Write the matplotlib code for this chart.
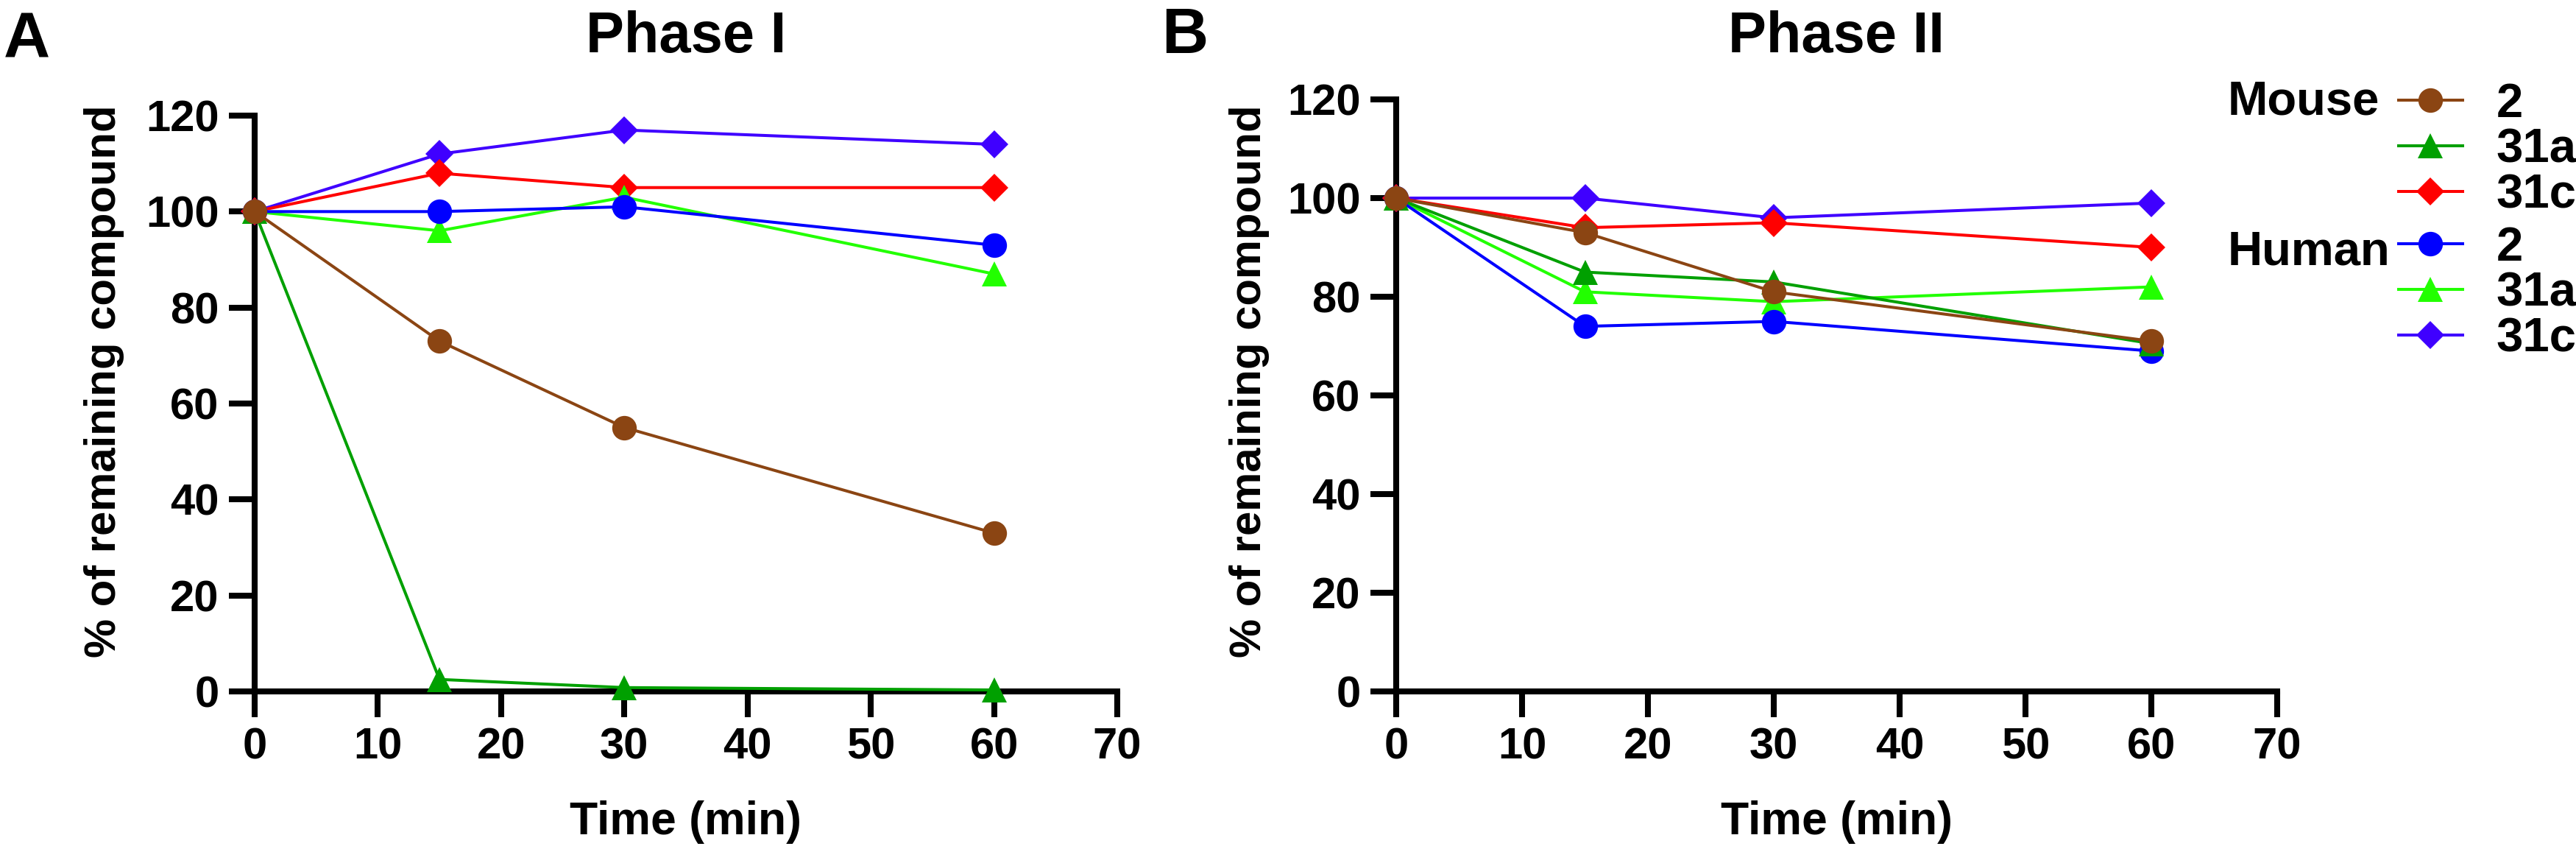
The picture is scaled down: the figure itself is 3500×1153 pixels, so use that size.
import matplotlib
matplotlib.use("Agg")
import matplotlib.pyplot as plt
from matplotlib.lines import Line2D

plt.rcParams['font.family'] = ['Liberation Sans', 'DejaVu Sans']
plt.rcParams['font.weight'] = 'bold'

# ---- data ----
time_min = [0, 15, 30, 60]

phase1_mouse_2 = [100, 73, 55, 33]
phase1_mouse_31a = [100, 2.5, 0.8, 0.3]
phase1_mouse_31c = [100, 108, 105, 105]
phase1_human_2 = [100, 100, 101, 93]
phase1_human_31a = [100, 96, 103, 87]
phase1_human_31c = [100, 112, 117, 114]

phase2_mouse_2 = [100, 93, 81, 71]
phase2_mouse_31a = [100, 85, 83, 70.5]
phase2_mouse_31c = [100, 94, 95, 90]
phase2_human_2 = [100, 74, 75, 69]
phase2_human_31a = [100, 81, 79, 82]
phase2_human_31c = [100, 100, 96, 99]

compound_labels = ['2', '31a', '31c']
species_labels = ['Mouse', 'Human']
x_ticks = [0, 10, 20, 30, 40, 50, 60, 70]
y_ticks = [0, 20, 40, 60, 80, 100, 120]
panel_titles = ['Phase I', 'Phase II']
panel_letters = ['A', 'B']
x_label = 'Time (min)'
y_label = '% of remaining compound'

# ---- styles ----
styles = {
    ('Mouse', '2'): dict(color='#8B4513', marker='o'),
    ('Mouse', '31a'): dict(color='#00A000', marker='^'),
    ('Mouse', '31c'): dict(color='#FF0000', marker='D'),
    ('Human', '2'): dict(color='#0000FF', marker='o'),
    ('Human', '31a'): dict(color='#22FF00', marker='^'),
    ('Human', '31c'): dict(color='#3F00FF', marker='D'),
}
msize = {'o': 24, '^': 24, 'D': 19}
LW = 2.9
SPINE_W = 5.8
TICK_FS = 43
LABEL_FS = 45

panels = [
    {('Mouse', '2'): phase1_mouse_2, ('Mouse', '31a'): phase1_mouse_31a,
     ('Mouse', '31c'): phase1_mouse_31c, ('Human', '2'): phase1_human_2,
     ('Human', '31a'): phase1_human_31a, ('Human', '31c'): phase1_human_31c},
    {('Mouse', '2'): phase2_mouse_2, ('Mouse', '31a'): phase2_mouse_31a,
     ('Mouse', '31c'): phase2_mouse_31c, ('Human', '2'): phase2_human_2,
     ('Human', '31a'): phase2_human_31a, ('Human', '31c'): phase2_human_31c},
]
# draw order (back to front), roughly as in the reference
draw_order = [('Human', '31c'), ('Mouse', '31c'), ('Human', '31a'),
              ('Human', '2'), ('Mouse', '31a'), ('Mouse', '2')]

fig = plt.figure(figsize=(35, 11.53), dpi=100)
ax_rects = [
    [346 / 3500, 1 - 939 / 1153, (1518 - 346) / 3500, (939 - 157) / 1153],
    [1897 / 3500, 1 - 939 / 1153, (3094 - 1897) / 3500, (939 - 135) / 1153],
]
ylabel_x = [(142 - 346) / 1172, (1697 - 1897) / 1197]

axes = []
for i, rect in enumerate(ax_rects):
    ax = fig.add_axes(rect)
    data = panels[i]
    for key in draw_order:
        st = styles[key]
        ax.plot(time_min, data[key], color=st['color'], marker=st['marker'],
                markersize=msize[st['marker']], markeredgewidth=0,
                linewidth=LW, clip_on=False, zorder=3)
    ax.set_xlim(0, 70)
    ax.set_ylim(0, 120)
    ax.set_xticks(x_ticks)
    ax.set_yticks(y_ticks)
    ax.set_xticklabels([str(t) for t in x_ticks])
    ax.set_yticklabels([str(t) for t in y_ticks])
    for s in ['top', 'right']:
        ax.spines[s].set_visible(False)
    for s in ['left', 'bottom']:
        ax.spines[s].set_linewidth(SPINE_W)
        ax.spines[s].set_capstyle('projecting')
    ax.tick_params(axis='both', which='major', direction='out', length=25,
                   width=SPINE_W, labelsize=TICK_FS, pad=10)
    for lab in ax.get_xticklabels() + ax.get_yticklabels():
        lab.set_fontweight('bold')
    ax.set_xlabel(x_label, fontsize=LABEL_FS, fontweight='bold', va='baseline')
    h_px = rect[3] * 1153
    ax.xaxis.set_label_coords(0.5, -(1133 - 939) / h_px)
    ax.set_ylabel(y_label, fontsize=LABEL_FS - 2, fontweight='bold', va='center')
    ax.yaxis.set_label_coords(ylabel_x[i], (939 - 518) / h_px)
    axes.append(ax)

# titles and panel letters
fig.text(932 / 3500, 1 - 71 / 1153, panel_titles[0], fontsize=56,
         fontweight='bold', ha='center', va='baseline')
fig.text(2495 / 3500, 1 - 71 / 1153, panel_titles[1], fontsize=56,
         fontweight='bold', ha='center', va='baseline')
fig.text(5 / 3500, 1 - 78 / 1153, panel_letters[0], fontsize=63,
         fontweight='bold', ha='left', va='baseline')
fig.text(1578 / 3500, 1 - 72 / 1153, panel_letters[1], fontsize=63,
         fontweight='bold', ha='left', va='baseline')

# legends: one per species
leg_tops = [112 / 1153, 307 / 1153]
for j, sp in enumerate(species_labels):
    handles = []
    for c in compound_labels:
        st = styles[(sp, c)]
        handles.append(Line2D([], [], color=st['color'], marker=st['marker'],
                              markersize=msize[st['marker']], markeredgewidth=0,
                              linewidth=LW))
    fig.legend(handles, compound_labels, loc='upper left',
               bbox_to_anchor=(3259 / 3500, 1 - leg_tops[j]),
               frameon=False, borderpad=0, borderaxespad=0,
               handlelength=1.33, handletextpad=0.7,
               labelspacing=0.03, prop={'size': 47, 'weight': 'bold'})
fig.text(3027 / 3500, 1 - 156 / 1153, species_labels[0], fontsize=47,
         fontweight='bold', ha='left', va='baseline')
fig.text(3027 / 3500, 1 - 360 / 1153, species_labels[1], fontsize=47,
         fontweight='bold', ha='left', va='baseline')

fig.savefig('out.png', dpi=100)
